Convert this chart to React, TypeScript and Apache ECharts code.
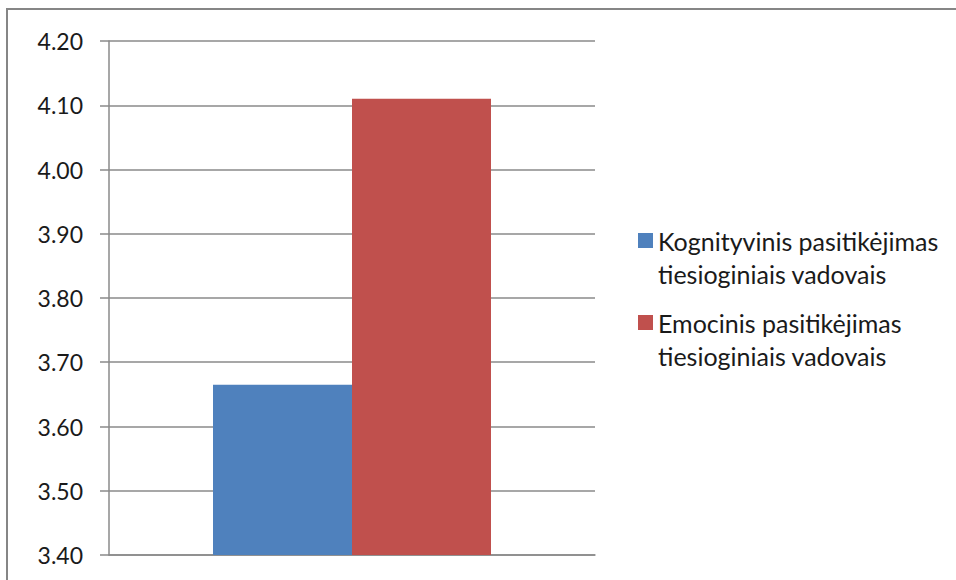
import React, { useEffect, useRef } from "react";
import * as echarts from "echarts";

// Average trust in direct managers, by dimension
const categories: string[] = [""];
const seriesNames: string[] = [
  "Kognityvinis pasitikėjimas tiesioginiais vadovais",
  "Emocinis pasitikėjimas tiesioginiais vadovais",
];
const cognitiveValues: number[] = [3.665];
const emotionalValues: number[] = [4.11];
const seriesColors: string[] = ["#4F81BD", "#C0504D"];

const FONT = "Lato, 'Open Sans', sans-serif";
const GREY = "#8a8a8a";

// Legend text: a blank leading line keeps the marker level with the first line,
// and the name wraps before "tiesioginiais"
const wrapName = (name: string) => " \n" + name.replace(" tiesioginiais", "\ntiesioginiais");

export default function App() {
  const ref = useRef<HTMLDivElement>(null);

  useEffect(() => {
    if (!ref.current) return;
    const chart = echarts.init(ref.current, undefined, { renderer: "svg" });

    const legendText = {
      fontFamily: FONT,
      fontSize: 25,
      color: "#1a1a1a",
      lineHeight: 33,
    };

    const legendBase = {
      orient: "vertical",
      left: 638,
      padding: 0,
      itemWidth: 15,
      itemHeight: 15,
      itemGap: 0,
      icon: "rect",
      formatter: wrapName,
      textStyle: legendText,
      selectedMode: false,
    };

    const frameStyle = { stroke: "#868686", lineWidth: 2 };

    chart.setOption({
      animation: false,
      backgroundColor: "#ffffff",
      // Chart-area frame: only its left and top edges fall inside the view
      graphic: [
        {
          type: "line",
          shape: { x1: 7, y1: 8, x2: 7, y2: 580 },
          style: frameStyle,
          silent: true,
        },
        {
          type: "line",
          shape: { x1: 6, y1: 9, x2: 956, y2: 9 },
          style: frameStyle,
          silent: true,
        },
      ],
      grid: { left: 109, right: 361, top: 41, bottom: 25 },
      legend: [
        { ...legendBase, data: [seriesNames[0]], top: 191 },
        { ...legendBase, data: [seriesNames[1]], top: 273 },
      ],
      xAxis: {
        type: "category",
        data: categories,
        axisLine: { show: true, lineStyle: { color: GREY, width: 1.5 } },
        axisTick: { show: false },
        axisLabel: { show: false },
      },
      yAxis: {
        type: "value",
        min: 3.4,
        max: 4.2,
        interval: 0.1,
        axisLine: { show: true, lineStyle: { color: GREY, width: 1.5 } },
        axisTick: { show: true, inside: false, length: 9, lineStyle: { color: GREY, width: 1.5 } },
        splitLine: { show: true, lineStyle: { color: GREY, width: 1.5 } },
        axisLabel: {
          formatter: (v: number) => v.toFixed(2),
          fontFamily: FONT,
          fontSize: 23,
          color: "#1a1a1a",
          margin: 26,
        },
      },
      series: [
        {
          name: seriesNames[0],
          type: "bar",
          data: cognitiveValues,
          barWidth: 139,
          barGap: "0%",
          itemStyle: { color: seriesColors[0] },
        },
        {
          name: seriesNames[1],
          type: "bar",
          data: emotionalValues,
          barWidth: 139,
          barGap: "0%",
          itemStyle: { color: seriesColors[1] },
        },
      ],
    });

    return () => chart.dispose();
  }, []);

  return (
    <div
      ref={ref}
      style={{ position: "fixed", left: 0, top: 0, width: 956, height: 580, background: "#fff" }}
    />
  );
}
